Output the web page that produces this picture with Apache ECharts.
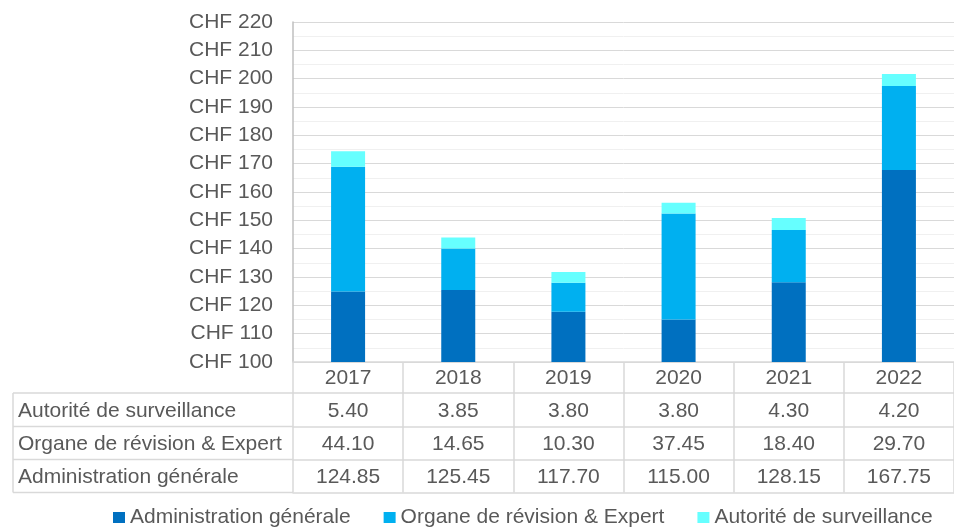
<!DOCTYPE html>
<html>
<head>
<meta charset="utf-8">
<script src="https://cdn.jsdelivr.net/npm/echarts@6/dist/echarts.min.js"></script>
<style>html,body{margin:0;padding:0;background:#fff}#c{width:954px;height:527px}</style>
</head>
<body>
<div id="c"></div>
<script>
const years = ['2017', '2018', '2019', '2020', '2021', '2022'];
const administration = [124.85, 125.45, 117.70, 115.00, 128.15, 167.75];
const organe = [44.10, 14.65, 10.30, 37.45, 18.40, 29.70];
const autorite = [5.40, 3.85, 3.80, 3.80, 4.30, 4.20];
const seriesNames = ['Administration générale', 'Organe de révision & Expert', 'Autorité de surveillance'];
const yTicks = { min: 100, max: 220, interval: 10 };

const FONT = 'Liberation Sans, Arial, sans-serif';
const TXT = '#595959';
const LINE = '#D9D9D9';
const FS = 21;

const chart = echarts.init(document.getElementById('c'));

const rowDefs = [
  { label: seriesNames[2], data: autorite, offset: 31 },
  { label: seriesNames[1], data: organe, offset: 64.5 },
  { label: seriesNames[0], data: administration, offset: 97.5 }
];

const xAxes = [{
  type: 'category', data: years, gridIndex: 0, position: 'bottom',
  axisLine: { show: true, lineStyle: { color: LINE, width: 1.5 } },
  axisTick: { show: true, alignWithLabel: false, length: 130.5, lineStyle: { color: LINE, width: 1.5 } },
  axisLabel: { color: TXT, fontSize: FS, fontFamily: FONT, margin: 6 },
  splitLine: { show: false }
}];
rowDefs.forEach(r => {
  xAxes.push({
    type: 'category', data: years, gridIndex: 0, position: 'bottom', offset: r.offset,
    axisLine: { show: true, lineStyle: { color: LINE, width: 1.5 } },
    axisTick: { show: false },
    axisLabel: { color: TXT, fontSize: FS, fontFamily: FONT, margin: 7.5,
      formatter: (v, i) => r.data[i].toFixed(2) },
    splitLine: { show: false }
  });
});
xAxes.push({
  type: 'category', data: years, gridIndex: 0, position: 'bottom', offset: 130.5,
  axisLine: { show: true, lineStyle: { color: LINE, width: 1.5 } },
  axisTick: { show: false }, axisLabel: { show: false }, splitLine: { show: false }
});

const graphics = [];
const leftX = 13, colX = 293, baseY = 362;
[31, 64.5, 97.5, 130.5].forEach(o => {
  graphics.push({ type: 'line', shape: { x1: leftX, y1: baseY + o, x2: colX, y2: baseY + o },
    style: { stroke: LINE, lineWidth: 1.5 }, silent: true });
});
graphics.push({ type: 'line', shape: { x1: leftX, y1: baseY + 31, x2: leftX, y2: baseY + 130.5 },
  style: { stroke: LINE, lineWidth: 1.5 }, silent: true });
rowDefs.forEach((r, i) => {
  const top = baseY + r.offset;
  const next = i < 2 ? baseY + rowDefs[i + 1].offset : baseY + 130.5;
  graphics.push({ type: 'text', left: 18, top: (top + next) / 2 - 9,
    style: { text: r.label, fill: TXT, font: FS + 'px ' + FONT }, silent: true });
});

chart.setOption({
  animation: false,
  textStyle: { fontFamily: FONT },
  grid: { left: 293, top: 22, width: 664, height: 340, containLabel: false },
  legend: {
    left: 108, top: 502, icon: 'rect', itemWidth: 12, itemHeight: 11, itemGap: 33,
    textStyle: { color: TXT, fontSize: FS, fontFamily: FONT },
    data: seriesNames
  },
  xAxis: xAxes,
  yAxis: {
    type: 'value', min: yTicks.min, max: yTicks.max, interval: yTicks.interval,
    axisLine: { show: true, lineStyle: { color: '#BFBFBF', width: 1.5 } },
    axisTick: { show: false },
    axisLabel: { color: TXT, fontSize: FS, fontFamily: FONT, margin: 20, formatter: 'CHF {value}' },
    splitLine: { show: true, lineStyle: { color: LINE, width: 1 } },
    minorTick: { show: false, splitNumber: 2 },
    minorSplitLine: { show: true, lineStyle: { color: '#F0F0F0', width: 1 } }
  },
  graphic: graphics,
  series: [
    { name: seriesNames[0], type: 'bar', stack: 't', data: administration, barWidth: 34, clip: true,
      itemStyle: { color: '#0070C0' } },
    { name: seriesNames[1], type: 'bar', stack: 't', data: organe, barWidth: 34, clip: true,
      itemStyle: { color: '#00B0F0' } },
    { name: seriesNames[2], type: 'bar', stack: 't', data: autorite, barWidth: 34, clip: true,
      itemStyle: { color: '#66FFFF' } }
  ]
});
</script>
</body>
</html>
